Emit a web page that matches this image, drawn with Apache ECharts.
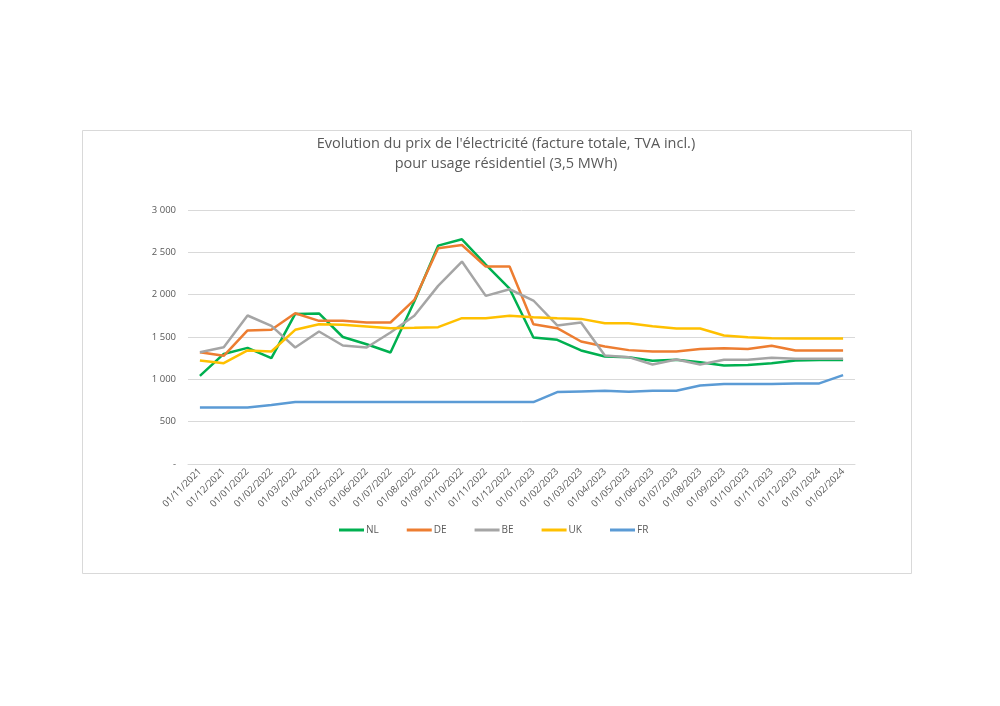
<!DOCTYPE html>
<html>
<head>
<meta charset="utf-8">
<script src="https://cdn.jsdelivr.net/npm/echarts@6/dist/echarts.min.js"></script>
<style>
html,body{margin:0;padding:0;background:#fff;}
#chart{width:1000px;height:706px;}
</style>
</head>
<body>
<div id="chart"></div>
<script>
const categories = ["01/11/2021","01/12/2021","01/01/2022","01/02/2022","01/03/2022","01/04/2022","01/05/2022","01/06/2022","01/07/2022","01/08/2022","01/09/2022","01/10/2022","01/11/2022","01/12/2022","01/01/2023","01/02/2023","01/03/2023","01/04/2023","01/05/2023","01/06/2023","01/07/2023","01/08/2023","01/09/2023","01/10/2023","01/11/2023","01/12/2023","01/01/2024","01/02/2024"];
const NL = [1040,1300,1372,1250,1773,1778,1500,1415,1317,1920,2579,2654,2355,2070,1494,1467,1341,1270,1262,1219,1231,1203,1164,1168,1191,1223,1227,1227];
const DE = [1321,1278,1577,1585,1781,1691,1691,1671,1671,1938,2548,2587,2332,2332,1651,1604,1447,1388,1345,1329,1329,1357,1368,1357,1396,1341,1341,1341];
const BE = [1321,1380,1754,1632,1376,1565,1400,1376,1553,1750,2104,2391,1986,2064,1931,1636,1671,1282,1262,1176,1235,1176,1231,1231,1254,1243,1243,1243];
const UK = [1223,1191,1341,1329,1585,1651,1644,1624,1604,1608,1616,1722,1722,1750,1734,1722,1714,1663,1663,1628,1600,1600,1518,1498,1486,1482,1482,1482];
const FR = [668,668,668,696,731,731,731,731,731,731,731,731,731,731,731,849,857,865,853,865,865,928,944,944,944,952,952,1050];
const seriesNames = ["NL","DE","BE","UK","FR"];
const seriesData = [NL, DE, BE, UK, FR];
const colors = ["#00B050","#ED7D31","#A5A5A5","#FFC000","#5B9BD5"];
const yTicks = {0:"-",500:"500",1000:"1 000",1500:"1 500",2000:"2 000",2500:"2 500",3000:"3 000"};

const chart = echarts.init(document.getElementById('chart'));
const fontFamily = "'Open Sans', 'Noto Sans', sans-serif";
chart.setOption({
  animation: false,
  backgroundColor: '#fff',
  graphic: [{
    type: 'rect', x: 0, y: 0, shape: {x: 82.5, y: 130.5, width: 829, height: 443},
    style: {fill: 'none', stroke: '#d9d9d9', lineWidth: 1}, silent: true
  }],
  title: {
    text: "Evolution du prix de l'électricité (facture totale, TVA incl.)\npour usage résidentiel (3,5 MWh)",
    left: 501, top: 129, textAlign: 'center',
    textStyle: {fontFamily: fontFamily, fontSize: 14.5, fontWeight: 'normal', color: '#595959', lineHeight: 20}
  },
  legend: {
    top: 520, left: 334,
    itemWidth: 25, itemHeight: 3, itemGap: 28,
    icon: 'rect',
    textStyle: {fontFamily: fontFamily, fontSize: 10, color: '#595959', padding: [0,0,0,-3]},
    data: seriesNames
  },
  grid: {left: 188, top: 210, width: 667, height: 254, containLabel: false},
  xAxis: {
    type: 'category', data: categories, boundaryGap: true,
    axisLine: {lineStyle: {color: '#d9d9d9'}},
    axisTick: {show: false},
    axisLabel: {rotate: 45, fontFamily: fontFamily, fontSize: 9.5, color: '#595959', interval: 0, margin: 6}
  },
  yAxis: {
    type: 'value', min: 0, max: 3000, interval: 500,
    axisLine: {show: false}, axisTick: {show: false},
    splitLine: {lineStyle: {color: '#d9d9d9'}},
    axisLabel: {fontFamily: fontFamily, fontSize: 9.5, color: '#595959', margin: 12,
      formatter: v => yTicks[v] !== undefined ? yTicks[v] : String(v)}
  },
  series: seriesNames.map((n, i) => ({
    name: n, type: 'line', data: seriesData[i],
    symbol: 'none', smooth: false,
    lineStyle: {width: 2.5, color: colors[i]},
    itemStyle: {color: colors[i]}
  }))
});
</script>
</body>
</html>
